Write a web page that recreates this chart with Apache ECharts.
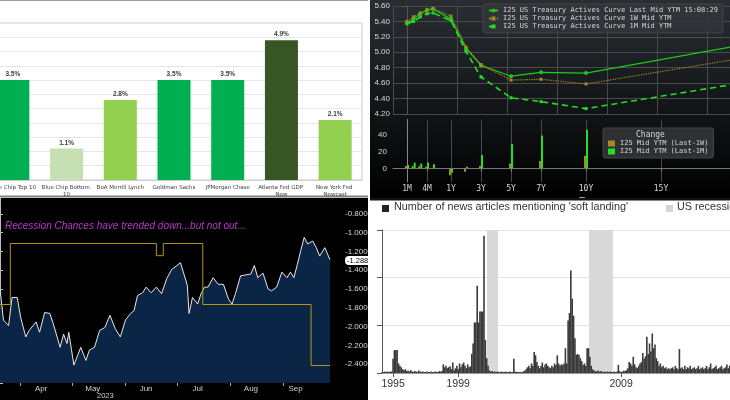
<!DOCTYPE html>
<html lang="en">
<head>
    <meta charset="UTF-8">
    <title>Soft landing dashboard</title>
    <script src="https://cdn.jsdelivr.net/npm/echarts@6/dist/echarts.min.js"></script>
    <style>
        body { margin: 0; background: #ffffff; width: 730px; height: 400px; position: relative; overflow: hidden; }
        .panel { position: absolute; overflow: hidden; }
    </style>
</head>
<body>
    <div id="tl" class="panel" style="left:0;top:0;width:368px;height:198px;background:#fff;"></div>
    <div id="tr" class="panel" style="left:370px;top:0;width:360px;height:198px;background:#000;"></div>
    <div id="bl" class="panel" style="left:0;top:198px;width:368px;height:202px;background:#000;"></div>
    <div id="br" class="panel" style="left:370px;top:198px;width:360px;height:202px;background:#fff;"></div>

    <script>
        // ---- top left: GDP forecasts
        var fcNames = ['Blue Chip Top 10', 'Blue Chip Bottom 10', 'BoA Merrill Lynch', 'Goldman Sachs', 'JPMorgan Chase', 'Atlanta Fed GDP Now', 'New York Fed Nowcast'];
        var fcValues = [3.5, 1.1, 2.8, 3.5, 3.5, 4.9, 2.1];
        var fcColors = ['#00b050', '#c6e0b4', '#92d050', '#00b050', '#00b050', '#375623', '#92d050'];

        // ---- top right: treasury curve (tenor in years)
        var tenors = [1 / 12, 2 / 12, 3 / 12, 4 / 12, 6 / 12, 1, 2, 3, 5, 7, 10, 20];
        var curveLast = [5.38, 5.43, 5.50, 5.55, 5.56, 5.43, 5.05, 4.83, 4.69, 4.74, 4.73, 5.08];
        var curve1W = [5.40, 5.46, 5.51, 5.54, 5.57, 5.47, 5.07, 4.84, 4.64, 4.65, 4.59, 4.91];
        var curve1M = [5.37, 5.40, 5.46, 5.50, 5.51, 5.41, 5.01, 4.68, 4.41, 4.36, 4.27, 4.59];
        var chg1W = [3, 3, 3, 2, 0, -8, -4, 3, 6, 9, 15];
        var chg1M = [4, 7, 6, 7, 5, -5, 2, 16, 29, 39, 46];
        var tenorTicks = [1 / 12, 4 / 12, 1, 3, 5, 7, 10, 15];
        var tenorLabels = ['1M', '4M', '1Y', '3Y', '5Y', '7Y', '10Y', '15Y'];

        // ---- bottom left: recession odds (days since Mar 20 2023)
        var oisDays = [0, 2, 5, 7, 10, 12, 15, 17, 21, 23, 26, 29, 31, 35, 37, 39, 40, 43, 47, 50, 52, 55, 58, 61, 64, 67, 70, 73, 76, 78, 80, 83, 85, 88, 91, 94, 97, 100, 103, 105, 107, 109, 110, 112, 115, 117, 119, 121, 124, 127, 130, 133, 135, 137, 140, 143, 146, 148, 150, 153, 156, 158, 161, 164, 167, 169, 171, 173, 175, 177, 179, 182, 184, 186, 189, 192];
        var oisValues = [-1.60, -1.93, -1.99, -1.69, -1.69, -1.90, -2.11, -2.04, -1.95, -2.06, -1.85, -1.86, -1.97, -2.22, -2.08, -2.18, -2.06, -2.41, -2.22, -2.36, -2.25, -2.22, -2.04, -2.01, -1.88, -2.02, -2.11, -1.93, -1.86, -1.83, -1.67, -1.64, -1.58, -1.64, -1.58, -1.65, -1.49, -1.39, -1.35, -1.32, -1.44, -1.56, -1.86, -1.69, -1.76, -1.65, -1.58, -1.58, -1.48, -1.55, -1.55, -1.71, -1.76, -1.65, -1.46, -1.45, -1.44, -1.35, -1.48, -1.43, -1.60, -1.62, -1.58, -1.42, -1.48, -1.42, -1.48, -1.34, -1.19, -1.05, -1.12, -1.09, -1.16, -1.25, -1.16, -1.2885];
        var ecrDays = [0, 6, 91, 95, 118, 181, 192];
        var ecrValues = [60, 65, 64, 65, 60, 55, 55.0001];
        var monthTicks = [24, 54, 85, 115, 146, 172];
        var monthLabels = ['Apr', 'May', 'Jun', 'Jul', 'Aug', 'Sep'];

        // ---- bottom right: 'soft landing' news count, monthly from Jan 1994
        var newsFirstYear = 1994;
        var newsByYear = [
            [0, 0, 0, 0, 2, 2, 3, 2, 3, 2, 3, 3],
            [30, 48, 48, 48, 20, 15, 12, 8, 6, 8, 4, 5],
            [3, 6, 3, 2, 4, 3, 2, 5, 3, 2, 3, 2],
            [2, 3, 2, 2, 3, 2, 2, 3, 2, 2, 4, 3],
            [4, 18, 12, 15, 10, 12, 14, 8, 22, 6, 10, 15],
            [8, 20, 12, 18, 22, 15, 10, 18, 12, 14, 40, 62],
            [106, 106, 183, 106, 129, 129, 129, 288, 69, 31, 15, 5],
            [3, 4, 2, 3, 2, 3, 2, 2, 3, 2, 2, 3],
            [2, 2, 3, 2, 2, 30, 3, 2, 2, 2, 2, 2],
            [3, 5, 8, 12, 15, 10, 20, 15, 44, 37, 23, 15],
            [10, 15, 22, 12, 18, 20, 15, 12, 10, 15, 12, 20],
            [17, 37, 20, 15, 18, 17, 20, 52, 20, 110, 126, 215],
            [156, 120, 73, 38, 40, 38, 31, 25, 17, 20, 15, 52],
            [52, 34, 15, 8, 5, 4, 3, 5, 3, 4, 3, 2],
            [3, 2, 3, 2, 3, 2, 2, 3, 2, 3, 17, 4],
            [2, 3, 5, 4, 6, 10, 23, 20, 15, 34, 18, 12],
            [10, 15, 20, 23, 42, 30, 35, 76, 40, 62, 45, 83],
            [52, 60, 31, 25, 15, 20, 12, 15, 10, 12, 8, 10],
            [8, 10, 12, 8, 15, 10, 8, 50, 10, 12, 8, 15],
            [8, 12, 10, 15, 8, 10, 12, 8, 10, 15, 8, 10],
            [12, 8, 10, 15, 8, 12, 20, 8, 10, 12, 15, 8],
            [10, 12, 15, 8, 10, 12, 18, 10, 15, 12, 10, 12]
        ];
        var recessions = [[2000.77, 2001.45], [2007.03, 2008.5]];
        var newsTicks = [1995, 1999, 2009];

        drawForecasts();
        drawCurve();
        drawRecession();
        drawNews();

        function drawForecasts() {
            var chart = echarts.init(document.getElementById('tl'));
            chart.setOption({
                animation: false,
                graphic: [{ type: 'line', shape: { x1: 0, y1: 0.5, x2: 368, y2: 0.5 }, style: { stroke: '#a0a0a0', lineWidth: 1 } },
                          { type: 'line', shape: { x1: 0, y1: 196.5, x2: 368, y2: 196.5 }, style: { stroke: '#808080', lineWidth: 2 } }],
                grid: { left: -14, right: 6, top: 23, bottom: 18, outerBoundsMode: 'none', show: true, borderColor: '#c8c8c8', borderWidth: 1 },
                xAxis: {
                    type: 'category', data: fcNames,
                    axisLine: { lineStyle: { color: '#d0d0d0' } }, axisTick: { show: false },
                    axisLabel: { interval: 0, fontSize: 5.5, color: '#404040', width: 52, overflow: 'break', lineHeight: 7, margin: 4, fontFamily: 'Verdana, DejaVu Sans' }
                },
                yAxis: { type: 'value', min: 0, max: 5.5, interval: 0.5, axisLabel: { show: false }, splitLine: { lineStyle: { color: '#e6e6e6' } } },
                series: [{
                    type: 'bar', barWidth: 33,
                    data: fcValues.map(function (v, i) { return { value: v, itemStyle: { color: fcColors[i] } }; }),
                    label: { show: true, position: 'top', distance: 2, fontSize: 6.5, fontWeight: 'bold', color: '#404040', formatter: function (p) { return p.value.toFixed(1) + '%'; } }
                }]
            });
        }

        // tenor -> plot position (the tenor axis is stretched at the short end)
        function tenorPos(t) {
            if (t <= 1 / 3) return (t - 1 / 12) * 80;
            if (t <= 1) return 20 + (t - 1 / 3) * 36;
            return 44 + (t - 1) * 15;
        }

        function drawCurve() {
            var chart = echarts.init(document.getElementById('tr'));
            var tickPos = tenorTicks.map(tenorPos);
            var txt = { color: '#d8d8d8', fontSize: 7, fontFamily: 'DejaVu Sans Mono' };
            function pts(arr) { return arr.map(function (v, i) { return [tenorPos(tenors[i]), v]; }); }
            var xBase = {
                type: 'value', min: -14, max: 323,
                axisLine: { lineStyle: { color: '#888' } },
                axisTick: { customValues: tickPos, lineStyle: { color: '#888' }, length: 3 },
                splitLine: { show: true, lineStyle: { color: '#4a4a4a' } }
            };
            chart.setOption({
                animation: false,
                backgroundColor: {
                    type: 'linear', x: 0, y: 0, x2: 0, y2: 1,
                    colorStops: [{ offset: 0, color: '#2a2e33' }, { offset: 0.6, color: '#101214' }, { offset: 1, color: '#000' }]
                },
                grid: [
                    { left: 23, right: 0, top: 6, height: 108, outerBoundsMode: 'none' },
                    { left: 23, right: 0, top: 119.5, height: 62.5, outerBoundsMode: 'none' }
                ],
                xAxis: [
                    Object.assign({}, xBase, { gridIndex: 0, axisLabel: { show: false }, axisLine: { show: false }, axisTick: { show: false } }),
                    Object.assign({}, xBase, {
                        gridIndex: 1,
                        name: 'Tenor', nameLocation: 'middle', nameGap: 15, nameTextStyle: { color: '#cfcfcf', fontSize: 10, padding: [0, 0, 0, 60] },
                        axisLabel: {
                            customValues: tickPos, color: '#d8d8d8', fontSize: 8, margin: 3, fontFamily: 'DejaVu Sans Mono',
                            formatter: function (v) { var i = tickPos.indexOf(v); return i >= 0 ? tenorLabels[i] : ''; }
                        }
                    })
                ],
                yAxis: [
                    { gridIndex: 0, type: 'value', min: 4.2, max: 5.6, interval: 0.2, axisLabel: { color: '#d8d8d8', fontSize: 8, margin: 3, formatter: function (v) { return v.toFixed(2); } }, splitLine: { lineStyle: { color: '#4a4a4a' } } },
                    { gridIndex: 1, type: 'value', min: -16, max: 58, axisLabel: { customValues: [0, 20, 40], color: '#d8d8d8', fontSize: 8, margin: 6 }, axisTick: { show: false }, axisLine: { show: true, lineStyle: { color: '#888' } }, splitLine: { show: false } }
                ],
                legend: [{
                    orient: 'vertical', left: 113, top: 4, itemWidth: 9, itemHeight: 5, itemGap: 1,
                    padding: [3, 5], backgroundColor: 'rgba(50,52,56,0.9)', borderColor: '#444', borderWidth: 1, borderRadius: 2,
                    textStyle: txt,
                    data: ['I25 US Treasury Actives Curve Last Mid YTM 15:08:29', 'I25 US Treasury Actives Curve 1W Mid YTM', 'I25 US Treasury Actives Curve 1M Mid YTM']
                }, {
                    orient: 'vertical', left: 233, top: 128, itemWidth: 7, itemHeight: 6, itemGap: 1,
                    padding: [12, 5, 3, 5], backgroundColor: 'rgba(50,52,56,0.9)', borderColor: '#444', borderWidth: 1, borderRadius: 2,
                    textStyle: txt,
                    data: [{ name: 'I25 Mid YTM (Last-1W)', icon: 'rect' }, { name: 'I25 Mid YTM (Last-1M)', icon: 'rect' }]
                }],
                graphic: [{ type: 'text', left: 266, top: 131, style: { text: 'Change', fill: '#d8d8d8', fontSize: 8, fontFamily: 'DejaVu Sans Mono' }, z: 100 }],
                series: [
                    { name: 'I25 US Treasury Actives Curve Last Mid YTM 15:08:29', type: 'line', data: pts(curveLast), symbol: 'circle', symbolSize: 4, color: '#1fc81f', lineStyle: { width: 1.2 } },
                    { name: 'I25 US Treasury Actives Curve 1W Mid YTM', type: 'line', data: pts(curve1W), symbol: 'rect', symbolSize: 3, color: '#a88a24', lineStyle: { width: 1.2, type: 'dotted' } },
                    { name: 'I25 US Treasury Actives Curve 1M Mid YTM', type: 'line', data: pts(curve1M), symbol: 'rect', symbolSize: 3, color: '#22e022', lineStyle: { width: 1.6, type: [6, 4] } },
                    { name: 'I25 Mid YTM (Last-1W)', type: 'bar', xAxisIndex: 1, yAxisIndex: 1, barWidth: 2, barGap: '0%', color: '#a88a24', data: pts(chg1W) },
                    { name: 'I25 Mid YTM (Last-1M)', type: 'bar', xAxisIndex: 1, yAxisIndex: 1, barWidth: 2, barGap: '0%', color: '#22e022', data: pts(chg1M),
                      markLine: { silent: true, symbol: 'none', label: { show: false }, lineStyle: { color: '#777', type: 'solid', width: 1 }, data: [{ yAxis: 0 }] } }
                ]
            });
        }

        function drawRecession() {
            var chart = echarts.init(document.getElementById('bl'));
            var ois = oisDays.map(function (d, i) { return [d, oisValues[i]]; });
            var ecr = ecrDays.map(function (d, i) { return [d, ecrValues[i]]; });
            chart.setOption({
                animation: false,
                grid: { left: 0, right: 26, top: -3, bottom: 17, outerBoundsMode: 'none' },
                xAxis: {
                    type: 'value', min: 0, max: 199,
                    axisLine: { show: false }, splitLine: { show: false },
                    axisTick: { customValues: [12, 42, 73, 103, 134, 165], length: 3, lineStyle: { color: '#aaa' } },
                    axisLabel: {
                        customValues: monthTicks, color: '#d0d0d0', fontSize: 8, margin: 2,
                        formatter: function (v) { var i = monthTicks.indexOf(v); return i >= 0 ? monthLabels[i] : ''; }
                    }
                },
                yAxis: [
                    { type: 'value', position: 'right', min: -2.6, max: -0.6, interval: 0.2,
                      axisLine: { show: true, lineStyle: { color: '#bbb' } }, axisTick: { show: true, length: 3, lineStyle: { color: '#bbb' } },
                      axisLabel: { color: '#d8d8d8', fontSize: 8, margin: 3, formatter: function (v) { return v <= -2.55 || v >= -0.65 ? '' : v.toFixed(3); } },
                      splitLine: { show: false } },
                    { type: 'value', min: 53.57, max: 68.97, show: false }
                ],
                graphic: [
                    { type: 'text', left: 5, top: 23, style: { text: 'Recession Chances have trended down...but not out...', fill: '#b43ac8', fontSize: 10, fontStyle: 'italic', fontFamily: 'Liberation Sans' } },
                    { type: 'text', left: 97, top: 194, style: { text: '2023', fill: '#d0d0d0', fontSize: 7.5 } },
                    { type: 'rect', shape: { x: 345, y: 58, width: 26, height: 9, r: 4 }, style: { fill: '#fff' } },
                    { type: 'text', left: 347, top: 58.5, style: { text: '-1.2885', fill: '#000', fontSize: 7.5 } },
                    { type: 'group', left: 135, top: 150, children: [
                        { type: 'rect', shape: { x: 0, y: 0, width: 143, height: 28 }, style: { fill: 'rgba(55,60,70,0.92)' } },
                        { type: 'text', x: 52, y: 2, style: { text: 'Last Price', fill: '#e0e0e0', fontSize: 7.5 } },
                        { type: 'rect', shape: { x: 5, y: 11, width: 6, height: 6 }, style: { fill: '#fff' } },
                        { type: 'text', x: 15, y: 10.5, style: { text: '.3M18MOIS U Index  (R1)  -1.2885', fill: '#e8e8e8', fontSize: 7.2 } },
                        { type: 'rect', shape: { x: 5, y: 19.5, width: 6, height: 6 }, style: { fill: '#e8c000' } },
                        { type: 'text', x: 15, y: 19, style: { text: 'ECRPUS 1Y Index  (L1)    55.0001', fill: '#e8e8e8', fontSize: 7.2 } }
                    ] }
                ],
                series: [
                    { type: 'line', data: ois, symbol: 'none', color: '#e8e8e8', lineStyle: { width: 1 },
                      areaStyle: { color: '#0b2547', opacity: 1, origin: 'start' } },
                    { type: 'line', data: ecr, yAxisIndex: 1, step: 'end', symbol: 'none', color: '#b09a10', lineStyle: { width: 1 } }
                ]
            });
        }

        function drawNews() {
            var chart = echarts.init(document.getElementById('br'));
            var bars = [];
            newsByYear.forEach(function (row, y) {
                row.forEach(function (v, m) { bars.push([newsFirstYear + y + m / 12, v]); });
            });
            chart.setOption({
                animation: false,
                grid: { left: 12, right: 0, top: 32, bottom: 27, outerBoundsMode: 'none' },
                xAxis: {
                    type: 'value', min: 1994.32, max: 2015.69,
                    axisLine: { lineStyle: { color: '#9a9a9a' } }, splitLine: { show: false },
                    axisTick: { customValues: newsTicks, length: 4, lineStyle: { color: '#555' } },
                    axisLabel: { customValues: newsTicks, color: '#333', fontSize: 10.5, margin: 6, fontFamily: 'Liberation Sans', formatter: function (v) { return String(v); } }
                },
                yAxis: { type: 'value', min: 0, max: 300, interval: 100, axisLabel: { show: false }, splitLine: { lineStyle: { color: '#e4e4e4' } } },
                graphic: [
                    { type: 'line', shape: { x1: 0, y1: 1, x2: 360, y2: 1 }, style: { stroke: '#111', lineWidth: 3 } },
                    { type: 'rect', shape: { x: 12, y: 7, width: 7, height: 7 }, style: { fill: '#222' } },
                    { type: 'text', x: 24, y: 4, style: { text: "Number of news articles mentioning 'soft landing'", fill: '#333', fontSize: 10.8, fontFamily: 'Liberation Sans' } },
                    { type: 'rect', shape: { x: 296, y: 7, width: 7, height: 7 }, style: { fill: '#d4d4d4' } },
                    { type: 'text', x: 307, y: 4, style: { text: 'US recessions', fill: '#333', fontSize: 10.8, fontFamily: 'Liberation Sans' } }
                ],
                series: [
                    { type: 'line', data: [], z: 1, markArea: { silent: true, itemStyle: { color: '#d9d9d9' },
                      data: recessions.map(function (r) { return [{ xAxis: r[0] }, { xAxis: r[1] }]; }) } },
                    { type: 'custom', z: 5, data: bars,
                      renderItem: function (params, api) {
                          var top = api.coord([api.value(0), api.value(1)]);
                          var base = api.coord([api.value(0), 0]);
                          return { type: 'rect', shape: { x: top[0] - 0.8, y: top[1], width: 1.6, height: base[1] - top[1] }, style: { fill: '#3a3a3a' } };
                      } }
                ]
            });
        }
    </script>
</body>
</html>
